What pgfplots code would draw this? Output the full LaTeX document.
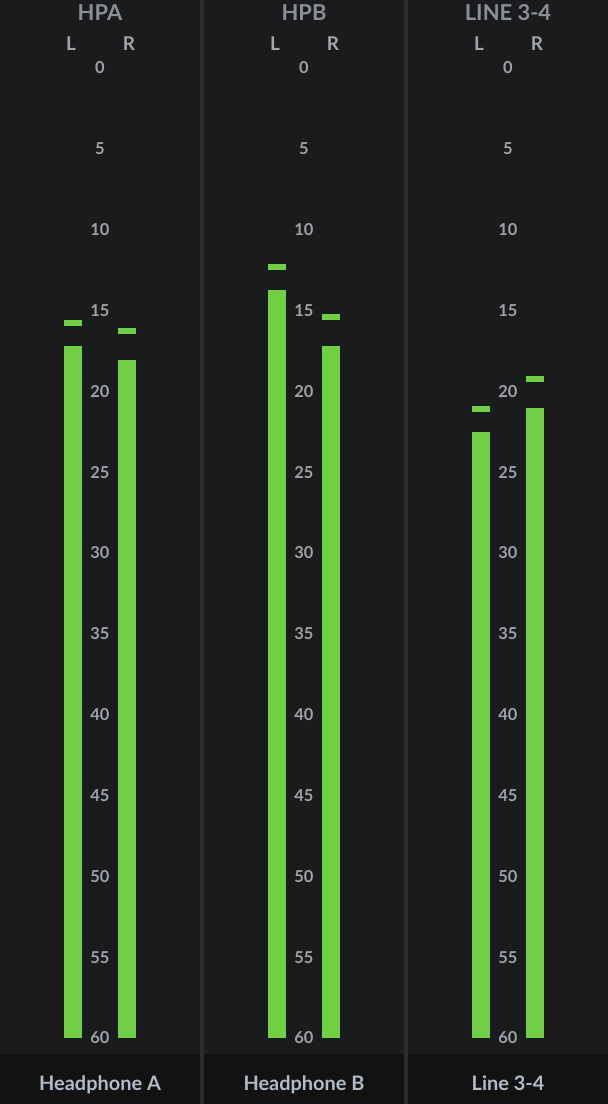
\documentclass[border=0pt]{standalone}
\usepackage{pgfplots}
\pgfplotsset{compat=1.18}
\usepackage{fontspec}
\setmainfont{Lato}
\definecolor{bg}{HTML}{1A1B1D}
\definecolor{band}{HTML}{121213}
\definecolor{sep}{HTML}{2B2C2E}
\definecolor{meter}{HTML}{70CF45}
\definecolor{ttl}{HTML}{8C9094}
\definecolor{chl}{HTML}{A4A7AA}
\definecolor{tick}{HTML}{A0A3A6}
\definecolor{foot}{HTML}{B0BCCA}
\tikzset{
  ttlstyle/.style={anchor=base, text=ttl, font=\fontsize{22}{24}\selectfont\bfseries, inner sep=0pt},
  chstyle/.style={anchor=base, text=chl, font=\fontsize{19}{21}\selectfont\bfseries, inner sep=0pt},
  footstyle/.style={anchor=base, text=foot, font=\fontsize{20}{22}\selectfont\bfseries, inner sep=0pt},
}
% px -> dB : y = 68 + 16.1667*dB
\begin{document}
\begin{tikzpicture}
\begin{axis}[
  scale only axis, width=608bp, height=1104bp,
  xmin=0, xmax=608, ymin=-4.2062, ymax=64.0825,
  y dir=reverse, axis lines=none, clip=false,
  /pgf/number format/assume math mode=true,
]
% background and footer band
\fill[bg] (axis cs:0,-4.2062) rectangle (axis cs:608,64.0825);
\fill[band] (axis cs:0,60.99) rectangle (axis cs:608,64.0825);
\fill[sep] (axis cs:200,-4.2062) rectangle (axis cs:204,64.0825);
\fill[sep] (axis cs:404,-4.2062) rectangle (axis cs:408,64.0825);
% meter levels (dB below full scale), bars from 60 up to level
\addplot[fill=meter, draw=none] coordinates {(64,60) (64,17.20) (82,17.20) (82,60)};
\addplot[fill=meter, draw=none] coordinates {(118,60) (118,18.06) (136,18.06) (136,60)};
\addplot[fill=meter, draw=none] coordinates {(268,60) (268,13.73) (286,13.73) (286,60)};
\addplot[fill=meter, draw=none] coordinates {(322,60) (322,17.20) (340,17.20) (340,60)};
\addplot[fill=meter, draw=none] coordinates {(472,60) (472,22.52) (490,22.52) (490,60)};
\addplot[fill=meter, draw=none] coordinates {(526,60) (526,21.03) (544,21.03) (544,60)};
% peak hold markers
\addplot[fill=meter, draw=none] coordinates {(64,15.59) (64,15.96) (82,15.96) (82,15.59)};
\addplot[fill=meter, draw=none] coordinates {(118,16.08) (118,16.45) (136,16.45) (136,16.08)};
\addplot[fill=meter, draw=none] coordinates {(268,12.12) (268,12.49) (286,12.49) (286,12.12)};
\addplot[fill=meter, draw=none] coordinates {(322,15.21) (322,15.58) (340,15.58) (340,15.21)};
\addplot[fill=meter, draw=none] coordinates {(472,20.90) (472,21.27) (490,21.27) (490,20.90)};
\addplot[fill=meter, draw=none] coordinates {(526,19.05) (526,19.42) (544,19.42) (544,19.05)};
% scale labels
\pgfplotsforeachungrouped \cx in {100,304,508}{
\addplot[draw=none, mark=none, point meta=y, nodes near coords,
  nodes near coords align=center,
  every node near coord/.style={anchor=center, inner sep=0pt, text=tick,
    font=\fontsize{16.5}{18}\selectfont\bfseries}]
  coordinates {(\cx,0)(\cx,5)(\cx,10)(\cx,15)(\cx,20)(\cx,25)(\cx,30)(\cx,35)(\cx,40)(\cx,45)(\cx,50)(\cx,55)(\cx,60)};
}
% titles
\node[ttlstyle] at (axis cs:100,-2.969) {HPA};
\node[ttlstyle] at (axis cs:304,-2.969) {HPB};
\node[ttlstyle] at (axis cs:508,-2.969) {LINE 3-4};
\node[chstyle] at (axis cs:71,-1.113) {L};
\node[chstyle] at (axis cs:129,-1.113) {R};
\node[chstyle] at (axis cs:275,-1.113) {L};
\node[chstyle] at (axis cs:333,-1.113) {R};
\node[chstyle] at (axis cs:479,-1.113) {L};
\node[chstyle] at (axis cs:537,-1.113) {R};
% footer labels
\node[footstyle] at (axis cs:100,63.216) {Headphone A};
\node[footstyle] at (axis cs:304,63.216) {Headphone B};
\node[footstyle] at (axis cs:508,63.216) {Line 3-4};
\end{axis}
\end{tikzpicture}
\end{document}
